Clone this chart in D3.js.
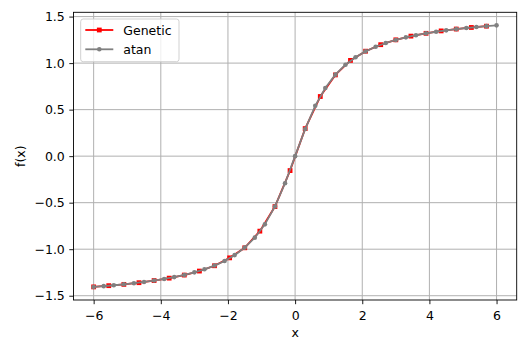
<!DOCTYPE html>
<html><head><meta charset="utf-8">
<script src="https://cdn.jsdelivr.net/npm/d3@7"></script>
<style>body{margin:0;background:#fff}svg{display:block}text{font-family:"DejaVu Sans",sans-serif}</style>
</head><body>
<script>
const geneticX = [-6,-5.55,-5.1,-4.65,-4.2,-3.75,-3.3,-2.85,-2.4,-1.95,-1.5,-1.05,-0.6,-0.15,0.3,0.75,1.2,1.65,2.1,2.55,3.0,3.45,3.9,4.35,4.8,5.25,5.7];
const geneticY = [-1.405,-1.392,-1.378,-1.360,-1.337,-1.311,-1.278,-1.235,-1.178,-1.093,-0.985,-0.806,-0.542,-0.155,0.296,0.641,0.873,1.029,1.128,1.198,1.250,1.290,1.320,1.346,1.366,1.383,1.397];
const atanX = [-6,-5.7,-5.4,-5.1,-4.8,-4.5,-4.2,-3.9,-3.6,-3.3,-3.0,-2.7,-2.4,-2.1,-1.8,-1.5,-1.2,-0.9,-0.6,-0.3,0,0.3,0.6,0.9,1.2,1.5,1.8,2.1,2.4,2.7,3.0,3.3,3.6,3.9,4.2,4.5,4.8,5.1,5.4,5.7,6];
const atanY = [-1.4056,-1.3971,-1.3877,-1.3772,-1.3654,-1.3521,-1.3371,-1.3198,-1.2999,-1.2766,-1.2490,-1.2162,-1.1760,-1.1263,-1.0637,-0.9828,-0.8761,-0.7328,-0.5404,-0.2915,0,0.2915,0.5404,0.7328,0.8761,0.9828,1.0637,1.1263,1.1760,1.2162,1.2490,1.2766,1.2999,1.3198,1.3371,1.3521,1.3654,1.3772,1.3877,1.3971,1.4056];
const xTicks = [-6,-4,-2,0,2,4,6];
const yTicks = [-1.5,-1.0,-0.5,0.0,0.5,1.0,1.5];
const seriesNames = ["Genetic","atan"];

const W=521,H=340,FS=12.5;
const L=73.5,R=516.7,T=12.3,B=300;
const svg=d3.select("body").append("svg").attr("width",W).attr("height",H);
const x=d3.scaleLinear().domain([-6.6,6.6]).range([L,R]);
const y=d3.scaleLinear().domain([-1.546,1.546]).range([B,T]);
const fmtY=d=>d3.format(".1f")(d).replace("-","\u2212");
const fmtX=d=>String(d).replace("-","\u2212");

// grid
const g=svg.append("g");
g.selectAll(".gx").data(xTicks).join("line").attr("x1",d=>x(d)).attr("x2",d=>x(d)).attr("y1",T).attr("y2",B).attr("stroke","#b0b0b0").attr("stroke-width",1);
g.selectAll(".gy").data(yTicks).join("line").attr("y1",d=>y(d)).attr("y2",d=>y(d)).attr("x1",L).attr("x2",R).attr("stroke","#b0b0b0").attr("stroke-width",1);

const line=d3.line().x(d=>x(d[0])).y(d=>y(d[1]));
const gen=geneticX.map((v,i)=>[v,geneticY[i]]);
const at=atanX.map((v,i)=>[v,atanY[i]]);
svg.append("path").attr("d",line(gen)).attr("fill","none").attr("stroke","#ff0000").attr("stroke-width",1.8);
svg.selectAll(".gm").data(gen).join("rect").attr("x",d=>x(d[0])-2.4).attr("y",d=>y(d[1])-2.4).attr("width",4.8).attr("height",4.8).attr("fill","#ff0000");
svg.append("path").attr("d",line(at)).attr("fill","none").attr("stroke","#808080").attr("stroke-width",1.8);
svg.selectAll(".am").data(at).join("circle").attr("cx",d=>x(d[0])).attr("cy",d=>y(d[1])).attr("r",2.3).attr("fill","#808080");

// axes
const xa=svg.append("g").attr("transform",`translate(0,${B})`).call(d3.axisBottom(x).tickValues(xTicks).tickFormat(fmtX).tickSize(4.2).tickPadding(6.5));
const ya=svg.append("g").attr("transform",`translate(${L},0)`).call(d3.axisLeft(y).tickValues(yTicks).tickFormat(fmtY).tickSize(4.2).tickPadding(4.5));
[xa,ya].forEach(a=>{a.select(".domain").remove();a.selectAll("text").attr("font-size",FS).attr("fill","#000").attr("font-family","DejaVu Sans");a.selectAll("line").attr("stroke","#000").attr("stroke-width",0.9);});
svg.append("rect").attr("x",L).attr("y",T).attr("width",R-L).attr("height",B-T).attr("fill","none").attr("stroke","#000").attr("stroke-width",0.9);

svg.append("text").attr("x",(L+R)/2).attr("y",336.5).attr("text-anchor","middle").attr("font-size",FS).text("x");
svg.append("text").attr("transform",`translate(24.5,${(T+B)/2}) rotate(-90)`).attr("text-anchor","middle").attr("font-size",FS).text("f(x)");

// legend
const lg=svg.append("g");
lg.append("rect").attr("x",80.7).attr("y",19).attr("width",98.3).attr("height",42.7).attr("rx",2.5).attr("fill","#fff").attr("fill-opacity",0.8).attr("stroke","#cccccc").attr("stroke-width",0.9);
const cols=["#ff0000","#808080"];
seriesNames.forEach((n,i)=>{
  const yy=30+i*19.3;
  lg.append("line").attr("x1",85.3).attr("x2",113.3).attr("y1",yy).attr("y2",yy).attr("stroke",cols[i]).attr("stroke-width",1.8);
  if(i===0) lg.append("rect").attr("x",99.3-2.4).attr("y",yy-2.4).attr("width",4.8).attr("height",4.8).attr("fill",cols[i]);
  else lg.append("circle").attr("cx",99.3).attr("cy",yy).attr("r",2.3).attr("fill",cols[i]);
  lg.append("text").attr("x",123.3).attr("y",yy+4.5).attr("font-size",FS).text(n);
});
</script>
</body></html>
